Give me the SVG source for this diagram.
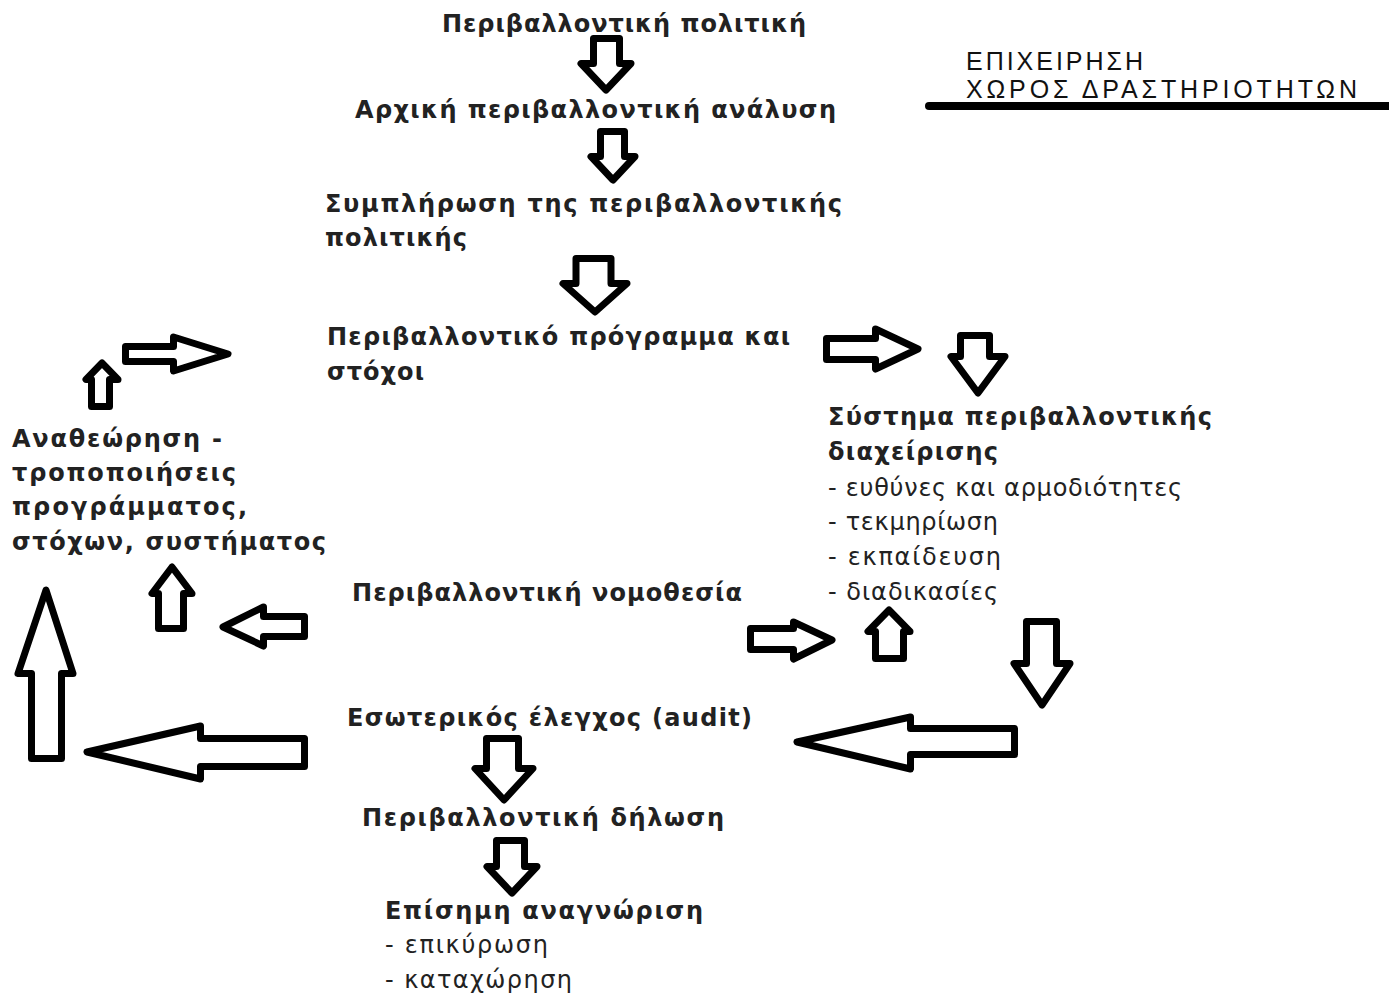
<svg xmlns="http://www.w3.org/2000/svg" width="1389" height="996" viewBox="0 0 1389 996">
<style>
.b{font-family:"DejaVu Sans",Verdana,sans-serif;font-weight:bold;font-size:24px;fill:#222}
.r{font-family:"DejaVu Sans",Verdana,sans-serif;font-size:24px;fill:#222}
.h{font-family:"Liberation Sans",Arial,sans-serif;font-size:25px;fill:#111}
.a{fill:#fff;stroke:#000;stroke-width:7;stroke-linejoin:round}
</style>
<rect width="1389" height="996" fill="#fff"/>
<g id="header">
<text class="h" x="966" y="70" textLength="177" lengthAdjust="spacing">ΕΠΙΧΕΙΡΗΣΗ</text>
<text class="h" x="966" y="98" textLength="391" lengthAdjust="spacing">ΧΩΡΟΣ ΔΡΑΣΤΗΡΙΟΤΗΤΩΝ</text>
<line x1="929" y1="106" x2="1395" y2="106" stroke="#000" stroke-width="8" stroke-linecap="round"/>
</g>
<g id="n-politiki"><text class="b" x="442" y="32" textLength="364" lengthAdjust="spacing">Περιβαλλοντική πολιτική</text></g>
<g id="n-analysi"><text class="b" x="355" y="118" textLength="481" lengthAdjust="spacing">Αρχική περιβαλλοντική ανάλυση</text></g>
<g id="n-symplirosi"><text class="b" x="325" y="212" textLength="517" lengthAdjust="spacing">Συμπλήρωση της περιβαλλοντικής</text><text class="b" x="325" y="246" textLength="142" lengthAdjust="spacing">πολιτικής</text></g>
<g id="n-programma"><text class="b" x="327" y="345" textLength="463" lengthAdjust="spacing">Περιβαλλοντικό πρόγραμμα και</text><text class="b" x="327" y="380" textLength="97" lengthAdjust="spacing">στόχοι</text></g>
<g id="n-systima"><text class="b" x="828" y="425" textLength="384" lengthAdjust="spacing">Σύστημα περιβαλλοντικής</text><text class="b" x="828" y="460" textLength="170" lengthAdjust="spacing">διαχείρισης</text>
<text class="r" x="828" y="496" textLength="354" lengthAdjust="spacing">- ευθύνες και αρμοδιότητες</text>
<text class="r" x="828" y="530" textLength="170" lengthAdjust="spacing">- τεκμηρίωση</text>
<text class="r" x="828" y="565" textLength="173" lengthAdjust="spacing">- εκπαίδευση</text>
<text class="r" x="828" y="600" textLength="170" lengthAdjust="spacing">- διαδικασίες</text></g>
<g id="n-anatheorisi"><text class="b" x="12" y="447" textLength="210" lengthAdjust="spacing">Αναθεώρηση -</text><text class="b" x="12" y="481" textLength="224" lengthAdjust="spacing">τροποποιήσεις</text><text class="b" x="12" y="515" textLength="235" lengthAdjust="spacing">προγράμματος,</text><text class="b" x="12" y="550" textLength="314" lengthAdjust="spacing">στόχων, συστήματος</text></g>
<g id="n-nomothesia"><text class="b" x="352" y="601" textLength="390" lengthAdjust="spacing">Περιβαλλοντική νομοθεσία</text></g>
<g id="n-audit"><text class="b" x="347" y="726" textLength="405" lengthAdjust="spacing">Εσωτερικός έλεγχος (audit)</text></g>
<g id="n-dilosi"><text class="b" x="362" y="826" textLength="362" lengthAdjust="spacing">Περιβαλλοντική δήλωση</text></g>
<g id="n-anagnorisi"><text class="b" x="385" y="919" textLength="318" lengthAdjust="spacing">Επίσημη αναγνώριση</text>
<text class="r" x="385" y="953" textLength="163" lengthAdjust="spacing">- επικύρωση</text>
<text class="r" x="385" y="988" textLength="187" lengthAdjust="spacing">- καταχώρηση</text></g>
<g id="connectors">
<polygon class="a" points="593.5,38.5 619.5,38.5 619.5,63.5 631,63.5 606,90 581,63.5 593.5,63.5"/>
<polygon class="a" points="600.5,131.5 624.5,131.5 624.5,156.5 635,156.5 613,180 591,156.5 600.5,156.5"/>
<polygon class="a" points="576,258.5 611,258.5 611,283.5 627,283.5 595,312 563,283.5 576,283.5"/>
<polygon class="a" points="960.5,335.5 989.5,335.5 989.5,356.5 1005,356.5 978,393 951,356.5 960.5,356.5"/>
<polygon class="a" points="1026.5,621.5 1056.5,621.5 1056.5,663.5 1070,663.5 1042,705 1014,663.5 1026.5,663.5"/>
<polygon class="a" points="486.5,738.5 518.5,738.5 518.5,768.5 533,768.5 504,800 475,768.5 486.5,768.5"/>
<polygon class="a" points="496.5,840.5 524.5,840.5 524.5,866.5 537,866.5 512,893 487,866.5 496.5,866.5"/>
<polygon class="a" points="91.5,406.5 109.5,406.5 109.5,379.5 118,379.5 102,363 86,379.5 91.5,379.5"/>
<polygon class="a" points="31.5,758.5 61.5,758.5 61.5,673.5 73,673.5 46,590 18,673.5 31.5,673.5"/>
<polygon class="a" points="158.5,628.5 183.5,628.5 183.5,593.5 192,593.5 172,567 152,593.5 158.5,593.5"/>
<polygon class="a" points="875.5,658.5 903.5,658.5 903.5,631.5 910,631.5 889,610 868,631.5 875.5,631.5"/>
<polygon class="a" points="125.5,346.5 173.5,346.5 173.5,337 228,354 173.5,371 173.5,361.5 125.5,361.5"/>
<polygon class="a" points="826.5,338.5 875.5,338.5 875.5,329 918,349 875.5,369 875.5,359.5 826.5,359.5"/>
<polygon class="a" points="750.5,628.5 793.5,628.5 793.5,622 832,640 793.5,659 793.5,649.5 750.5,649.5"/>
<polygon class="a" points="304.5,616.5 263.5,616.5 263.5,607 223,627 263.5,646 263.5,636.5 304.5,636.5"/>
<polygon class="a" points="304.5,738.5 200.5,738.5 200.5,726 87,752 200.5,779 200.5,766.5 304.5,766.5"/>
<polygon class="a" points="1014.5,728.5 910.5,728.5 910.5,717 797,742 910.5,769 910.5,754.5 1014.5,754.5"/>
</g>
</svg>
